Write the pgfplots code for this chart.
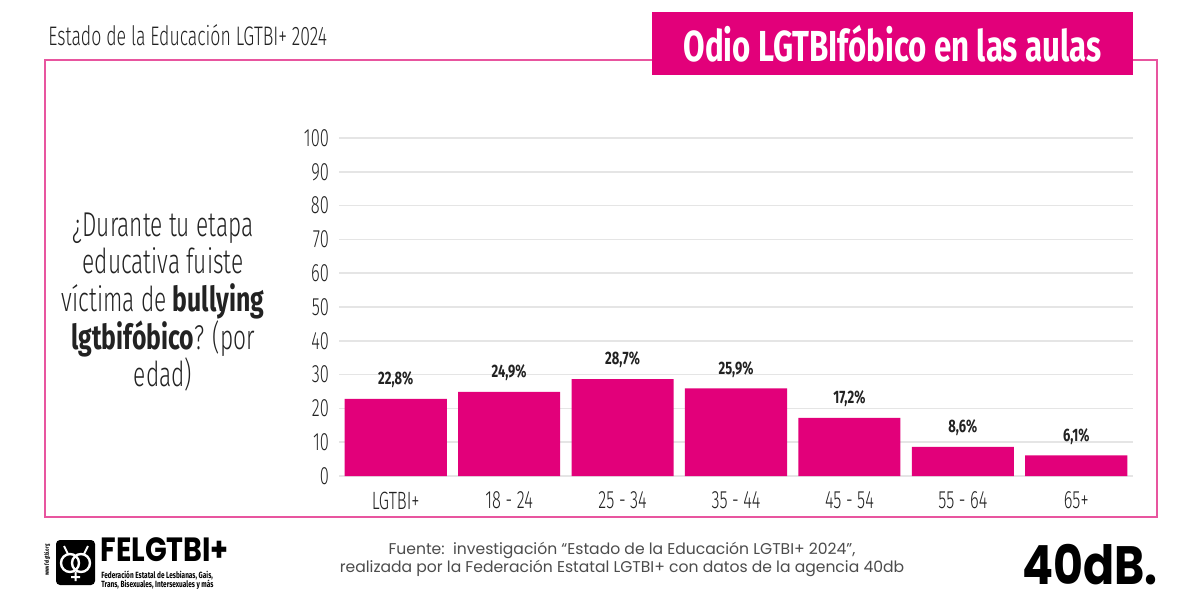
\documentclass[border=0pt]{standalone}
\usepackage{fontspec}
\usepackage{pgfplots}
\pgfplotsset{compat=1.18}
\setmainfont{Fira Sans Light}[FakeStretch=0.66]
\newfontfamily\condbold{Fira Sans Bold}[FakeStretch=0.72]
\newfontfamily\srcfont{Poppins}
\newfontfamily\dbfont{Poppins Bold}[FakeStretch=0.85]
\definecolor{fgpink}{HTML}{E2007A}
\definecolor{framepink}{HTML}{E8559F}
\definecolor{txt}{HTML}{222222}
\begin{document}
\begin{tikzpicture}[x=0.5pt,y=-0.5pt]
% canvas
\fill[white] (0,0) rectangle (1200,601);
% frame and heading
\draw[framepink, line width=1pt] (45,60) rectangle (1157,517);
\fill[fgpink] (652,12) rectangle (1133,75);
\node[white, inner sep=0, font=\condbold\fontsize{21.7}{26}\selectfont] at (892.5,44) {Odio LGTBIfóbico en las aulas};
\node[anchor=west, inner sep=0, text=txt, font=\fontsize{13.4}{15}\selectfont] at (48,35) {Estado de la Educación LGTBI+ 2024};
% question
\node[align=center, text=txt, font=\fontsize{17.2}{18.85}\selectfont] at (163,302)
  {¿Durante tu etapa\\ educativa fuiste\\ víctima de {\condbold bullying}\\ {\condbold lgtbifóbico}? (por\\ edad)};
% chart
\begin{axis}[
  at={(169.5pt,-238pt)}, anchor=south west,
  scale only axis, width=397pt, height=169pt,
  xmin=-0.5, xmax=6.5, ymin=0, ymax=100,
  ybar, bar width=0.9, bar shift=0pt,
  axis line style={draw=none}, major tick style={draw=none},
  ymajorgrids, grid style={line width=0.8pt, black!10},
  ytick={0,10,...,100},
  xtick={0,...,6},
  xticklabels={LGTBI+, 18 - 24, 25 - 34, 35 - 44, 45 - 54, 55 - 64, 65+},
  /pgf/number format/assume math mode=true,
  ticklabel style={font=\fontsize{12.5}{14}\selectfont, text=txt},
  yticklabel style={xshift=-1.5pt},
  nodes near coords={\pgfmathprintnumber[fixed,fixed zerofill,precision=1,use comma]{\pgfplotspointmeta}\%},
  every node near coord/.append style={font=\condbold\fontsize{9}{10}\selectfont, text=txt, yshift=2pt},
  clip=false]
\addplot[fill=fgpink, draw=none] coordinates {(0,22.8) (1,24.9) (2,28.7) (3,25.9) (4,17.2) (5,8.6) (6,6.1)};
\end{axis}
% FELGTBI+ mark
\fill[black, rounded corners=2pt] (56,540) rectangle (95,585);
\draw[white, line width=1.2pt] (70,563) circle (9) (81,563) circle (9);
\draw[white, line width=1pt] (68,554) -- (64,546) (84,554) -- (88,546) (75.5,572) -- (75.5,581) (71,577) -- (80,577);
\node[rotate=90, inner sep=0, font=\condbold\fontsize{3}{3}\selectfont] at (47,560) {www.felgtbi.org};
\node[anchor=base west, inner sep=0, text depth=0pt, font=\dbfont\fontsize{16.8}{17}\selectfont] at (100,561) {FELGTBI+};
\tikzset{sub/.style={anchor=base west, inner sep=0, text height=3.2pt, text depth=0.8pt, font=\condbold\fontsize{4.5}{5}\selectfont}}
\node[sub] at (101,578) {Federación Estatal de Lesbianas, Gais,};
\node[sub] at (101,587) {Trans, Bisexuales, Intersexuales y más};
% source
\node[align=center, text=black!70, font=\srcfont\fontsize{7.8}{9}\selectfont] at (622,559)
  {Fuente:\ \ investigación “Estado de la Educación LGTBI+ 2024”,\\ realizada por la Federación Estatal LGTBI+ con datos de la agencia 40db};
\node[anchor=east, inner sep=0, font=\dbfont\fontsize{27}{28}\selectfont] at (1158,565) {40dB.};
\end{tikzpicture}
\end{document}
